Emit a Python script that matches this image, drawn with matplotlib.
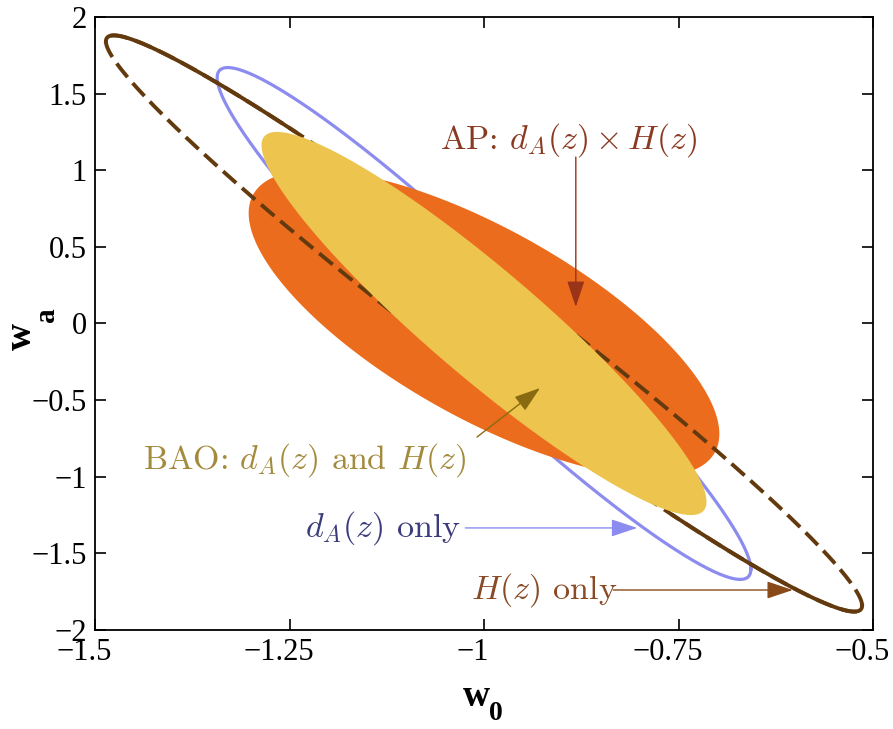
import numpy as np
import matplotlib.pyplot as plt
import matplotlib.transforms as mtransforms
from matplotlib.patches import FancyArrowPatch

plt.rcParams['mathtext.fontset'] = 'cm'
plt.rcParams['font.family'] = ['Liberation Serif', 'DejaVu Serif']

# Ellipse parameters: centre, half-extent in w0, half-extent in wa, correlation
names = ["d_A only", "AP", "H only", "BAO"]
cx = [-1.0, -1.0, -1.0, -1.0]
cy = [0.0, 0.0, 0.0, 0.0]
sx = [0.343, 0.3025, 0.486, 0.286]
sy = [1.67, 1.0, 1.88, 1.25]
rho = [-0.96, -0.72, -0.979, -0.93]

# annotation texts: label, text anchor (left, centre), arrow tail, arrow head
labels = [r'AP: $d_A(z)\times H(z)$',
          r'BAO: $d_A(z)$ and $H(z)$',
          r'$d_A(z)$ only',
          r'$H(z)$ only']
label_xy = [(-1.057, 1.197), (-1.438, -0.89), (-1.23, -1.334), (-1.017, -1.739)]
arrow_from = [(-0.882, 1.086), (-1.009, -0.741), (-1.024, -1.334), (-0.834, -1.739)]
arrow_to = [(-0.882, 0.108), (-0.928, -0.421), (-0.803, -1.334), (-0.603, -1.739)]
text_colors = ['#8a3a22', '#a48a3c', '#3c3c7c', '#8a4a26']
arrow_colors = ['#9a3418', '#8a6a10', '#8c8cf0', '#8a4a18']

xticks = [-1.5, -1.25, -1, -0.75, -0.5]
xticklabels = ['\u22121.5', '\u22121.25', '\u22121', '\u22120.75', '\u22120.5']
yticks = [-2, -1.5, -1, -0.5, 0, 0.5, 1, 1.5, 2]
yticklabels = ['\u22122', '\u22121.5', '\u22121', '\u22120.5', '0', '0.5', '1', '1.5', '2']


def contour(i, t):
    x = cx[i] + sx[i] * np.cos(t)
    y = cy[i] + sy[i] * (rho[i] * np.cos(t) + np.sqrt(1 - rho[i] ** 2) * np.sin(t))
    return x, y


t = np.linspace(0, 2 * np.pi, 600)

fig = plt.figure(figsize=(8.93, 7.29), dpi=100)
ax = fig.add_axes([0.1064, 0.1358, 0.8712, 0.8409])

# d_A(z) only: blue outline
x, y = contour(0, t)
ax.plot(x, y, color='#8c8cf0', lw=2.3, zorder=1)

# AP: orange fill
x, y = contour(1, t)
ax.fill(x, y, color='#ec6c1e', lw=0, zorder=2)

# H(z) only: brown, dashed with solid stretches near the tips
x, y = contour(2, t)
ax.plot(x, y, color='#633a0e', lw=2.8, ls=(0, (4.5, 2)), zorder=3)
ts1 = np.linspace(2 * np.pi / 3, np.pi, 150)
ts2 = np.linspace(-np.pi / 3, 0, 150)
for ts in (ts1, ts2):
    xs, ys = contour(2, ts)
    ax.plot(xs, ys, color='#633a0e', lw=2.8, zorder=3)

# BAO: yellow fill
x, y = contour(3, t)
ax.fill(x, y, color='#ecc44e', lw=0, zorder=4)

for lab, xy, a0, a1, tc, acol in zip(labels, label_xy, arrow_from, arrow_to,
                                      text_colors, arrow_colors):
    ax.text(xy[0], xy[1], lab, color=tc, fontsize=24.5, ha='left', va='center',
            family='cmr10', math_fontfamily='cm', zorder=6)
    ax.add_patch(FancyArrowPatch(a0, a1, arrowstyle='-|>,head_length=0.9,head_width=0.3',
                                 mutation_scale=18, color=acol, lw=1.0, zorder=6,
                                 shrinkA=0, shrinkB=0))

ax.set_xlim(-1.5, -0.5)
ax.set_ylim(-2, 2)
ax.set_xticks(xticks)
ax.set_xticklabels(xticklabels)
ax.set_yticks(yticks)
ax.set_yticklabels(yticklabels)
ax.tick_params(direction='in', length=8, width=1.2, labelsize=22, top=True, right=True,
               pad=6)
for s in ax.spines.values():
    s.set_linewidth(1.3)

# x tick labels sit a little left of their ticks in the original
shift = mtransforms.ScaledTranslation(-8 / 72, 0, fig.dpi_scale_trans)
for lbl in ax.get_xticklabels():
    lbl.set_transform(lbl.get_transform() + shift)

# axis labels: bold w with big lowered subscripts
fig.text(0.534, 0.0445, 'w', fontsize=27, fontweight='bold', ha='center', va='center')
fig.text(0.555, 0.021, '0', fontsize=20, fontweight='bold', ha='center', va='center')
fig.text(0.0236, 0.539, 'w', fontsize=27, fontweight='bold', ha='center', va='center',
         rotation=90)
fig.text(0.0516, 0.568, 'a', fontsize=21, fontweight='bold', ha='center', va='center',
         rotation=90)

plt.savefig('out.png', dpi=100)
